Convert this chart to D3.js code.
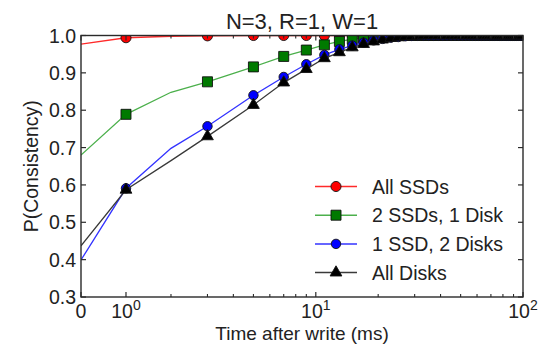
<!DOCTYPE html>
<html>
<head>
<meta charset="utf-8">
<script src="https://cdn.jsdelivr.net/npm/d3@7"></script>
<style>
    body { margin: 0; background: #fff; }
    text { font-family: "Liberation Sans", Arial, Helvetica, sans-serif; fill: #222; }
</style>
</head>
<body>
<div id="chart-area" style="width:542px;height:345px;"></div>
<script>

// time after write (ms); markers sit on the odd values
let times = [0, 1, 2, 3, 5, 7, 9, 11, 13, 15, 17, 19, 21, 23, 25, 27, 29, 31, 33, 35, 37, 39,
    41, 43, 45, 47, 49, 51, 53, 55, 57, 59, 61, 63, 65, 67, 69, 71, 73, 75, 77, 79,
    81, 83, 85, 87, 89, 91, 93, 95, 97, 99];

let allSSDs = [0.977, 0.994, 0.998, 0.999, 1, 1, 1, 1, 1, 1, 1, 1, 1, 1, 1, 1, 1, 1, 1, 1, 1, 1,
    1, 1, 1, 1, 1, 1, 1, 1, 1, 1, 1, 1, 1, 1, 1, 1, 1, 1, 1, 1,
    1, 1, 1, 1, 1, 1, 1, 1, 1, 1];

let twoSSDsOneDisk = [0.680, 0.789, 0.848, 0.876, 0.916, 0.944, 0.961, 0.975, 0.984, 0.990, 0.994, 0.996, 0.998, 0.999, 1, 1, 1, 1, 1, 1, 1, 1,
    1, 1, 1, 1, 1, 1, 1, 1, 1, 1, 1, 1, 1, 1, 1, 1, 1, 1, 1, 1,
    1, 1, 1, 1, 1, 1, 1, 1, 1, 1];

let oneSSDTwoDisks = [0.399, 0.591, 0.698, 0.757, 0.840, 0.889, 0.923, 0.948, 0.963, 0.973, 0.981, 0.987, 0.991, 0.994, 0.996, 0.998, 0.999, 1, 1, 1, 1, 1,
    1, 1, 1, 1, 1, 1, 1, 1, 1, 1, 1, 1, 1, 1, 1, 1, 1, 1, 1, 1,
    1, 1, 1, 1, 1, 1, 1, 1, 1, 1];

let allDisks = [0.437, 0.587, 0.665, 0.730, 0.814, 0.874, 0.910, 0.939, 0.955, 0.968, 0.977, 0.984, 0.989, 0.993, 0.995, 0.997, 0.998, 0.999, 1, 1, 1, 1,
    1, 1, 1, 1, 1, 1, 1, 1, 1, 1, 1, 1, 1, 1, 1, 1, 1, 1, 1, 1,
    1, 1, 1, 1, 1, 1, 1, 1, 1, 1];

let seriesNames = ["All SSDs", "2 SSDs, 1 Disk", "1 SSD, 2 Disks", "All Disks"];
let yTicks = [0.3, 0.4, 0.5, 0.6, 0.7, 0.8, 0.9, 1.0];
let xMajorTicks = [0, 1, 10, 100];
let xMajorLabels = [["0", ""], ["10", "0"], ["10", "1"], ["10", "2"]];
let xMinorTicks = [2, 3, 4, 5, 6, 7, 8, 9, 20, 30, 40, 50, 60, 70, 80, 90];


/* * * * * * * * * * * * * *
*      class LineVis        *
* * * * * * * * * * * * * */

class LineVis {

    constructor(parentElement) {
        this.parentElement = parentElement;
        this.initVis();
    }

    initVis() {
        let vis = this;

        vis.margin = {top: 35.5, right: 19, bottom: 48, left: 81};
        vis.width = 542 - vis.margin.left - vis.margin.right;
        vis.height = 345 - vis.margin.top - vis.margin.bottom;

        vis.svg = d3.select("#" + vis.parentElement).append("svg")
            .attr("width", 542)
            .attr("height", 345)
            .append("g")
            .attr("transform", `translate(${vis.margin.left}, ${vis.margin.top})`);

        // x axis: linear up to 2 ms, log from there (slopes meet at 2)
        let linPart = 1 / Math.LN10;
        let logPart = Math.log10(100 / 2);
        let xBreak = vis.width * linPart / (linPart + logPart);
        vis.xLin = d3.scaleLinear().domain([0, 2]).range([0, xBreak]);
        vis.xLog = d3.scaleLog().domain([2, 100]).range([xBreak, vis.width]);
        vis.x = v => v <= 2 ? vis.xLin(v) : vis.xLog(v);

        vis.y = d3.scaleLinear()
            .domain([0.3, 1.0])
            .range([vis.height, 0]);

        vis.svg.append("clipPath")
            .attr("id", "plot-clip")
            .append("rect")
            .attr("width", vis.width)
            .attr("height", vis.height);

        vis.wrangleData();
    }

    wrangleData() {
        let vis = this;

        let values = [allSSDs, twoSSDsOneDisk, oneSSDTwoDisks, allDisks];
        let lineColors = ["#ff2a2a", "#4cb04c", "#3333ff", "#3a3a3a"];
        let fillColors = ["#ff0000", "#007a00", "#0000ff", "#000000"];
        let symbols = [d3.symbolCircle, d3.symbolSquare, d3.symbolCircle, d3.symbolTriangle];
        let sizes = [80, 100, 70, 60];

        vis.displayData = seriesNames.map((name, i) => ({
            name: name,
            lineColor: lineColors[i],
            fill: fillColors[i],
            symbol: symbols[i],
            size: sizes[i],
            points: times.map((t, j) => ({t: t, v: values[i][j]}))
        }));

        vis.updateVis();
    }

    updateVis() {
        let vis = this;

        let line = d3.line()
            .x(d => vis.x(d.t))
            .y(d => vis.y(d.v));

        let plot = vis.svg.append("g").attr("clip-path", "url(#plot-clip)");

        vis.displayData.forEach(function (s) {
            plot.append("path")
                .datum(s.points)
                .attr("fill", "none")
                .attr("stroke", s.lineColor)
                .attr("stroke-width", 1.3)
                .attr("d", line);

            plot.selectAll(null)
                .data(s.points.filter(d => d.t % 2 === 1))
                .enter()
                .append("path")
                .attr("transform", d => `translate(${vis.x(d.t)},${vis.y(d.v)})`)
                .attr("d", d3.symbol().type(s.symbol).size(s.size))
                .attr("fill", s.fill)
                .attr("stroke", "#111")
                .attr("stroke-width", 0.9);
        });

        // frame + inward ticks
        let axisColor = "#2a2a2a";
        vis.svg.append("rect")
            .attr("width", vis.width)
            .attr("height", vis.height)
            .attr("fill", "none")
            .attr("stroke", axisColor)
            .attr("stroke-width", 1.4);

        yTicks.forEach(function (t) {
            let yy = vis.y(t);
            vis.svg.append("line").attr("x1", 0).attr("x2", 5).attr("y1", yy).attr("y2", yy)
                .attr("stroke", axisColor).attr("stroke-width", 1.2);
            vis.svg.append("line").attr("x1", vis.width).attr("x2", vis.width - 5).attr("y1", yy).attr("y2", yy)
                .attr("stroke", axisColor).attr("stroke-width", 1.2);
            vis.svg.append("text")
                .attr("x", -5)
                .attr("y", yy + 7)
                .attr("text-anchor", "end")
                .attr("font-size", 19.5)
                .text(d3.format(".1f")(t));
        });

        xMajorTicks.forEach(function (t, i) {
            let xx = vis.x(t);
            vis.svg.append("line").attr("x1", xx).attr("x2", xx).attr("y1", vis.height).attr("y2", vis.height - 5)
                .attr("stroke", axisColor).attr("stroke-width", 1.2);
            vis.svg.append("line").attr("x1", xx).attr("x2", xx).attr("y1", 0).attr("y2", 5)
                .attr("stroke", axisColor).attr("stroke-width", 1.2);
            let label = vis.svg.append("text")
                .attr("x", xx)
                .attr("y", vis.height + 20.5)
                .attr("text-anchor", "middle")
                .attr("font-size", 19.5);
            label.append("tspan").text(xMajorLabels[i][0]);
            if (xMajorLabels[i][1] !== "") {
                label.append("tspan")
                    .attr("dy", -8)
                    .attr("font-size", 14)
                    .text(xMajorLabels[i][1]);
            }
        });

        xMinorTicks.forEach(function (t) {
            let xx = vis.x(t);
            vis.svg.append("line").attr("x1", xx).attr("x2", xx).attr("y1", vis.height).attr("y2", vis.height - 3)
                .attr("stroke", axisColor).attr("stroke-width", 1.1);
            vis.svg.append("line").attr("x1", xx).attr("x2", xx).attr("y1", 0).attr("y2", 3)
                .attr("stroke", axisColor).attr("stroke-width", 1.1);
        });

        // labels
        vis.svg.append("text")
            .attr("x", vis.width / 2)
            .attr("y", -6.5)
            .attr("text-anchor", "middle")
            .attr("font-size", 22)
            .text("N=3, R=1, W=1");

        vis.svg.append("text")
            .attr("x", vis.width / 2)
            .attr("y", vis.height + 42.5)
            .attr("text-anchor", "middle")
            .attr("font-size", 19)
            .text("Time after write (ms)");

        vis.svg.append("text")
            .attr("transform", `translate(${-43}, ${vis.height / 2}) rotate(-90)`)
            .attr("text-anchor", "middle")
            .attr("font-size", 19.5)
            .text("P(Consistency)");

        // legend
        let legend = vis.svg.append("g")
            .attr("transform", `translate(${234}, ${151})`);

        vis.displayData.forEach(function (s, i) {
            let row = legend.append("g").attr("transform", `translate(0, ${i * 28.7})`);
            row.append("line")
                .attr("x1", 0).attr("x2", 42)
                .attr("stroke", s.lineColor)
                .attr("stroke-width", 1.5);
            row.append("path")
                .attr("transform", "translate(21,0)")
                .attr("d", d3.symbol().type(s.symbol).size(s.size))
                .attr("fill", s.fill)
                .attr("stroke", "#111")
                .attr("stroke-width", 0.9);
            row.append("text")
                .attr("x", 57)
                .attr("y", 7)
                .attr("font-size", 19.5)
                .text(s.name);
        });
    }
}

let lineVis = new LineVis("chart-area");

</script>
</body>
</html>
